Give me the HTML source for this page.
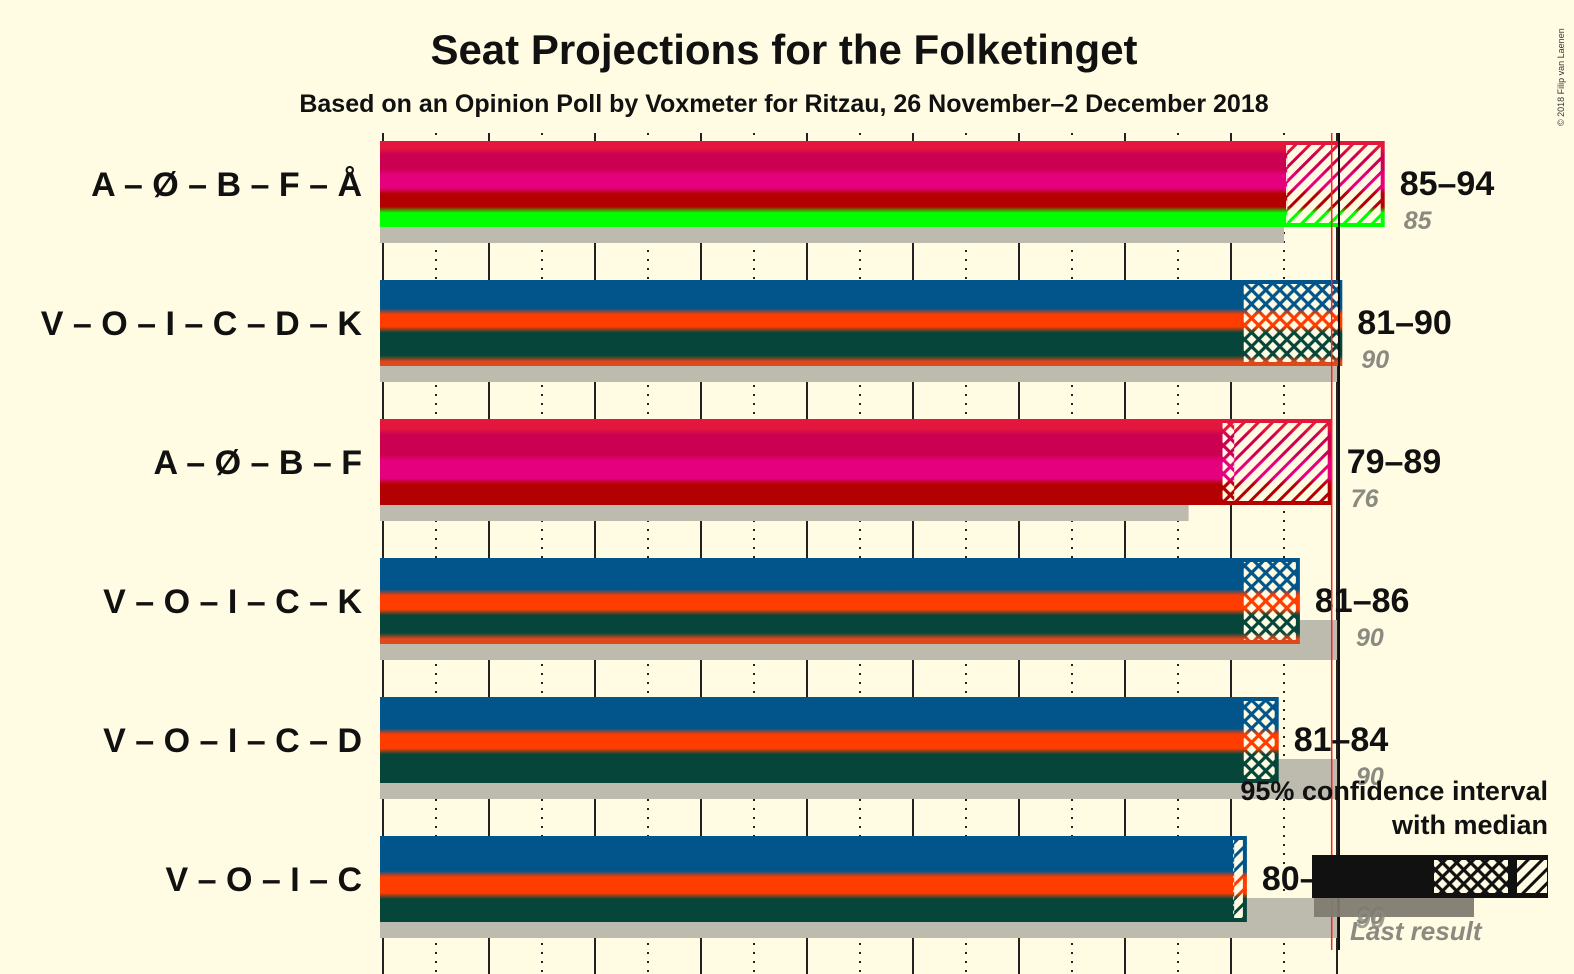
<!DOCTYPE html>
<html><head><meta charset="utf-8"><style>
html,body{margin:0;padding:0;background:#FFFCE3;}
svg{display:block;font-family:"Liberation Sans",sans-serif;}
</style></head><body>
<svg id="chart" width="1574" height="974" viewBox="0 0 1574 974" xmlns="http://www.w3.org/2000/svg">
<defs>
<pattern id="diag" patternUnits="userSpaceOnUse" width="10" height="10" patternTransform="rotate(45)">
<rect x="0" y="0" width="7" height="10" fill="#FFFCE3"/></pattern>
<pattern id="cross" patternUnits="userSpaceOnUse" width="10" height="10" patternTransform="rotate(45)">
<rect x="1.6" y="1.6" width="6.8" height="6.8" fill="#FFFCE3"/></pattern>
</defs>
<rect width="1574" height="974" fill="#FFFCE3"/>
<text x="784" y="64" text-anchor="middle" font-size="42" font-weight="bold" fill="#111">Seat Projections for the Folketinget</text>
<text x="784" y="112" text-anchor="middle" font-size="25" font-weight="bold" fill="#111">Based on an Opinion Poll by Voxmeter for Ritzau, 26 November–2 December 2018</text>
<text transform="translate(1564,126) rotate(-90)" font-size="9" fill="#333">© 2018 Filip van Laenen</text>
<g id="grid"></g>
<g id="bars"></g>
<g id="legend">
<text x="1548" y="800" text-anchor="end" font-size="27" font-weight="bold" fill="#111">95% confidence interval</text>
<text x="1548" y="834" text-anchor="end" font-size="27" font-weight="bold" fill="#111">with median</text>
<rect x="1314" y="895" width="160" height="22" fill="#7F7B70" opacity="0.95"/>
<rect x="1312" y="855" width="236" height="43" fill="#111"/>
<rect x="1434" y="860" width="74" height="33" fill="url(#cross)"/>
<rect x="1517" y="860" width="30" height="33" fill="url(#diag)"/>
<text x="1356" y="928" font-size="26" font-style="italic" font-weight="bold" fill="#8a8a80" opacity="0.8">90</text>
<text x="1350" y="940" font-size="26" font-style="italic" font-weight="bold" fill="#8a8a80">Last result</text>
</g>
</svg>
<script>
const coalitions = ["A – Ø – B – F – Å","V – O – I – C – D – K","A – Ø – B – F","V – O – I – C – K","V – O – I – C – D","V – O – I – C"];
const lows = [85,81,79,81,81,80];
const medians = [85,90,80,86,84,80];
const highs = [94,90,89,86,84,81];
const lastResults = [85,90,76,90,90,90];
const partyColors = {A:"#E3173E","Ø":"#CC0050",B:"#E5007D",F:"#B30000","Å":"#00FF00",V:"#01558B",O:"#FF3D00",I:"#05453A",C:"#05453A",D:"#05453A",K:"#E0481A"};
const partyWeights = {A:12,"Ø":24,B:22,F:22,"Å":20,V:38,O:22,I:13,C:13,D:9,K:9};
const gridTicks = [0,5,10,15,20,25,30,35,40,45,50,55,60,65,70,75,80,85,90];
const majority = 90;

const NS="http://www.w3.org/2000/svg";
const x = v => 383 + 10.6*v;
const rowTop = i => 141 + i*139;
const BH = 86;
function mk(tag, attrs, parent){const e=document.createElementNS(NS,tag);for(const k in attrs)e.setAttribute(k,attrs[k]);parent.appendChild(e);return e;}
const svg=document.getElementById('chart'), defs=svg.querySelector('defs');
const grid=document.getElementById('grid'), bars=document.getElementById('bars');

gridTicks.forEach(t=>{
  const major = t%10===0;
  const l=mk('line',{x1:x(t),x2:x(t),y1:133,y2:974,stroke:'#222','stroke-width':2,'stroke-dasharray':major?'none':'2,7'},grid);
  
  
});

coalitions.forEach((name,i)=>{
  const top=rowTop(i);
  const parties=name.split(' – ');
  const g=mk('linearGradient',{id:'g'+i,x1:0,y1:0,x2:0,y2:1},defs);
  const total=parties.reduce((s,p)=>s+partyWeights[p],0);
  let acc=0; const blend=0.035;
  parties.forEach((p,j)=>{
    const a=acc/total, b=(acc+partyWeights[p])/total; acc+=partyWeights[p];
    mk('stop',{offset:j===0?0:a+blend,'stop-color':partyColors[p]},g);
    mk('stop',{offset:j===parties.length-1?1:b-blend,'stop-color':partyColors[p]},g);
  });
  const lr=mk('rect',{x:380,y:top+62,width:x(lastResults[i])-380,height:40,fill:'#BDBAAE'},bars);
  
  
  const hiX=x(highs[i]+0.5), loX=x(lows[i]+0.2), medX=x(medians[i]+0.3);
  const b=mk('rect',{x:380,y:top,width:hiX-380,height:BH,fill:'url(#g'+i+')'},bars);
  
  
  if(medX>loX){
    const c=mk('rect',{x:loX,y:top+4,width:Math.min(medX,hiX-4)-loX,height:BH-8,fill:'url(#cross)'},bars);
    
    
  }
  const ds=Math.max(medX,loX);
  if(hiX-4>ds){
    const d=mk('rect',{x:ds,y:top+4,width:hiX-4-ds,height:BH-8,fill:'url(#diag)'},bars);
    
    
  }
  const lab=mk('text',{x:362,y:top+BH/2+12,'text-anchor':'end','font-size':34,'font-weight':'bold',fill:'#111'},bars);
  lab.textContent=name;
  
  
  const rg=mk('text',{x:hiX+15,y:top+54,'font-size':34,'font-weight':'bold',fill:'#111'},bars);
  rg.textContent=lows[i]+'–'+highs[i];
  
  
  const lt=mk('text',{x:Math.max(hiX,x(lastResults[i]))+19,y:top+88,'font-size':25,'font-style':'italic','font-weight':'bold',fill:'#8a8a80'},bars);
  lt.textContent=lastResults[i];
  
  
});
const thick=mk('line',{x1:x(majority)+2,x2:x(majority)+2,y1:133,y2:950,stroke:'#111','stroke-width':2},bars);


const red=mk('line',{x1:x(majority-0.5),x2:x(majority-0.5),y1:133,y2:950,stroke:'#FF2020','stroke-width':1.5},bars);


svg.appendChild(document.getElementById('legend'));
</script>
</body></html>
